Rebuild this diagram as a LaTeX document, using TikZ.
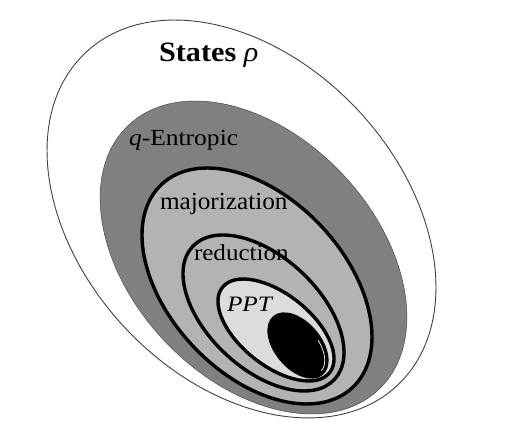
\documentclass[tikz,border=0pt]{standalone}
\usepackage{fontspec}
\setmainfont{Liberation Serif}
\usepackage{graphicx}
\definecolor{darkfill}{HTML}{808080}
\definecolor{midfill}{HTML}{B3B3B3}
\definecolor{lightfill}{HTML}{DCDCDC}
\tikzset{
  outerset/.style={fill=white, draw=black!75, line width=0.9pt},
  entropset/.style={fill=darkfill, draw=black!70, line width=0.5pt},
  innerset/.style={draw=black, line width=3.4pt},
  lbl/.style={anchor=base west, inner sep=0pt, outer sep=0pt, text=black}
}
\begin{document}
\begin{tikzpicture}[x=1pt,y=1pt]
\useasboundingbox (0,0) rectangle (517,435);
% outer set of states
\begin{scope}[shift={(241.5,216)}, rotate=-46.9]
  \path[outerset] (0,0) ellipse [x radius=228, y radius=159.4];
\end{scope}
% q-entropic
\begin{scope}[shift={(253.5,177.5)}, rotate=-46.5]
  \path[entropset] (0,0) ellipse [x radius=182, y radius=122];
\end{scope}
% majorization
\begin{scope}[shift={(257,149)}, rotate=-46.7]
  \path[innerset, fill=midfill] (0,0) ellipse [x radius=139.4, y radius=87.8];
\end{scope}
% reduction
\begin{scope}[shift={(263.5,122)}, rotate=-43.2]
  \path[innerset, fill=midfill] (0,0) ellipse [x radius=97.2, y radius=55.8];
\end{scope}
% PPT
\begin{scope}[shift={(276,105)}, rotate=-38.5]
  \path[innerset, fill=lightfill] (0,0) ellipse [x radius=68.5, y radius=35.7];
\end{scope}
% separable (black)
\begin{scope}[shift={(298,89.5)}, rotate=-50]
  \path[fill=black] (0,0) ellipse [x radius=38.5, y radius=23.5];
  \draw[white, line width=0.7pt] (75:34.5 and 19.5) arc [start angle=75, end angle=5, x radius=34.5, y radius=19.5];
\end{scope}
% labels
\node[lbl] (states) at (159,373) {\scalebox{1.08}[1]{\fontsize{28}{30}\selectfont\bfseries States {\mdseries\itshape ρ}}};
\node[lbl] (qent) at (129,289) {\scalebox{1.11}[1]{\fontsize{23}{25}\selectfont{\itshape q}-Entropic}};
\node[lbl] (major) at (160,225) {\scalebox{1.03}[1]{\fontsize{24.5}{26}\selectfont majorization}};
\node[lbl] (reduc) at (194,174) {\scalebox{1.09}[1]{\fontsize{23}{25}\selectfont reduction}};
\node[lbl] (ppt) at (227,123) {\scalebox{1.15}[1]{\fontsize{22}{24}\selectfont\itshape PPT}};
\end{tikzpicture}
\end{document}
